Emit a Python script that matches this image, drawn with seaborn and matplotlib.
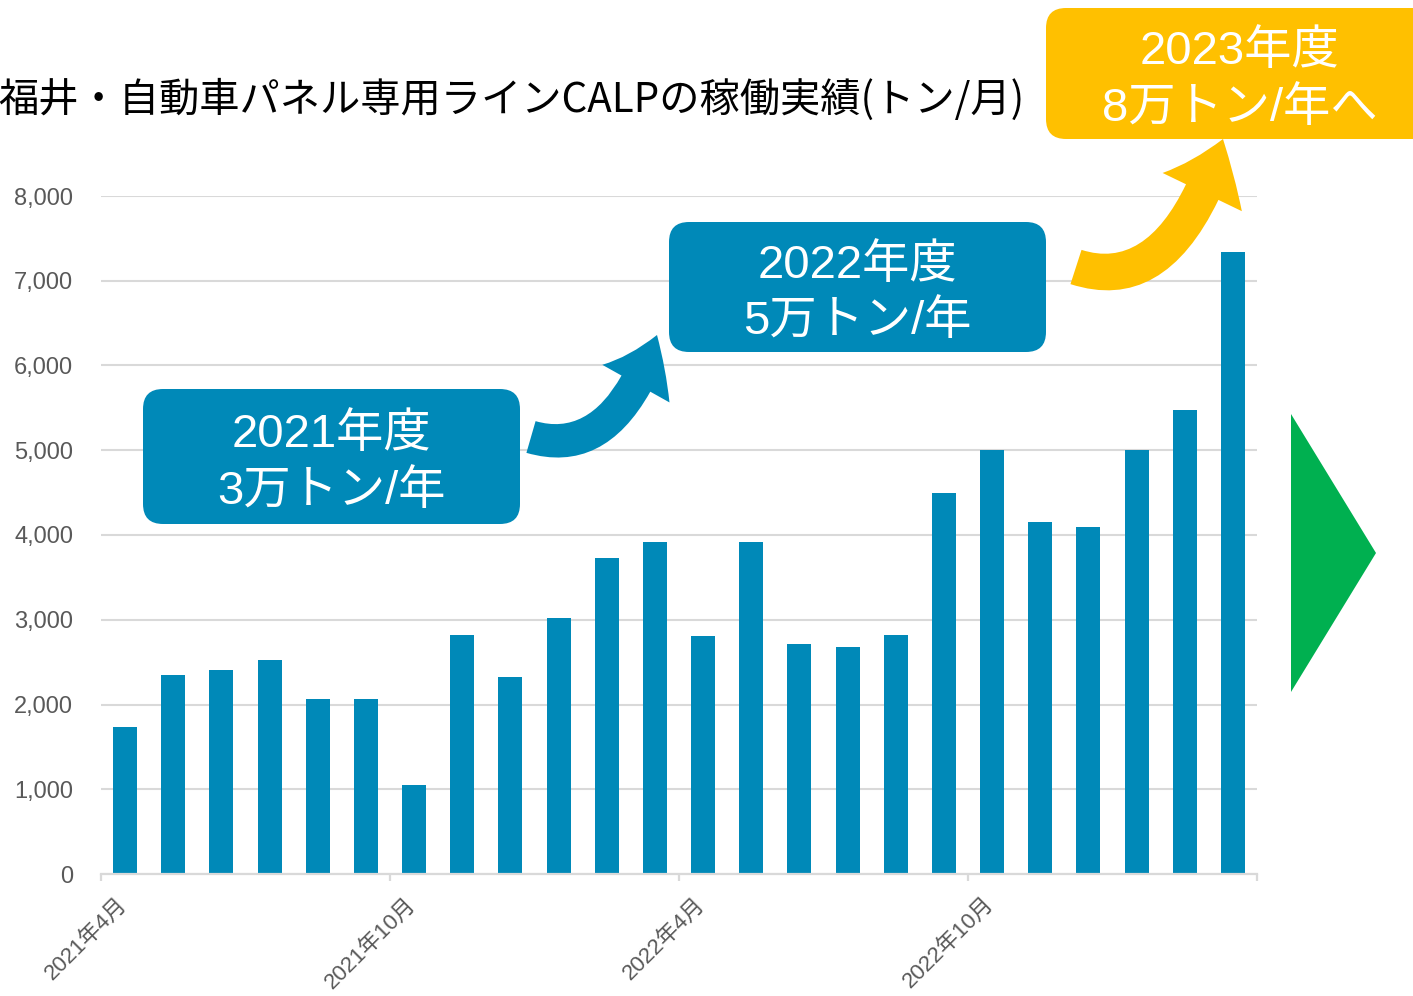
import matplotlib
matplotlib.use("Agg")
import matplotlib.pyplot as plt
import seaborn as sns
import pandas as pd
from matplotlib.patches import FancyBboxPatch, FancyArrowPatch, Polygon
from matplotlib.path import Path
from matplotlib.transforms import IdentityTransform, ScaledTranslation

# ---------------- data ----------------
months = ["2021年4月", "2021年5月", "2021年6月", "2021年7月", "2021年8月", "2021年9月",
          "2021年10月", "2021年11月", "2021年12月", "2022年1月", "2022年2月", "2022年3月",
          "2022年4月", "2022年5月", "2022年6月", "2022年7月", "2022年8月", "2022年9月",
          "2022年10月", "2022年11月", "2022年12月", "2023年1月", "2023年2月", "2023年3月"]
values = [1730, 2350, 2410, 2520, 2060, 2060, 1050, 2820, 2330, 3020, 3730, 3920,
          2810, 3920, 2710, 2680, 2820, 4500, 5000, 4150, 4100, 5000, 5480, 7340]
tick_labels = ["2021年4月", "2021年10月", "2022年4月", "2022年10月", ""]
tick_positions = [-0.5, 5.5, 11.5, 17.5, 23.5]
yticks = [0, 1000, 2000, 3000, 4000, 5000, 6000, 7000, 8000]
title = "福井・自動車パネル専用ラインCALPの稼働実績(トン/月)"
box_texts = ["2021年度\n3万トン/年", "2022年度\n5万トン/年", "2023年度\n8万トン/年へ"]

BLUE = "#0089B8"
YELLOW = "#FFC000"
GREEN = "#00B050"
GRID = "#D9D9D9"
LABEL = "#595959"

W, H = 1413, 996
sns.set_theme(style="white")
FAM = ["Liberation Sans", "Noto Sans CJK JP"]
plt.rcParams["font.family"] = FAM

fig = plt.figure(figsize=(W / 100, H / 100), dpi=100)
fig.patch.set_facecolor("white")
ax = fig.add_axes([101 / W, (H - 874) / H, (1257 - 101) / W, (874 - 196) / H])
ax.set_facecolor("white")

df = pd.DataFrame({"month": months, "value": values})
sns.barplot(data=df, x="month", y="value", color=BLUE, saturation=1, width=0.5,
            linewidth=0, ax=ax, zorder=3)

ax.set_xlim(-0.5, 23.5)
ax.set_ylim(0, 8000)
ax.set_xlabel("")
ax.set_ylabel("")
for s in ["left", "top", "right"]:
    ax.spines[s].set_visible(False)
ax.spines["bottom"].set_color(GRID)
ax.spines["bottom"].set_linewidth(1.6)
ax.spines["bottom"].set_zorder(4)

ax.set_yticks(yticks)
ax.set_yticklabels([f"{v:,}" for v in yticks], color=LABEL, fontsize=17)
ax.tick_params(axis="y", length=0, pad=20)
ax.yaxis.grid(True, color=GRID, linewidth=1.5, zorder=0)
ax.set_axisbelow(True)

ax.set_xticks(tick_positions)
ax.set_xticklabels([""] * len(tick_positions))
ax.tick_params(axis="x", direction="out", length=5, width=1.6, color=GRID, bottom=True)
off = ScaledTranslation(23 / 100, -27 / 100, fig.dpi_scale_trans)
for x, lab in zip(tick_positions, tick_labels):
    ax.text(x, 0, lab, transform=ax.get_xaxis_transform() + off, rotation=45,
            rotation_mode="anchor", ha="right", va="center", fontsize=16,
            color=LABEL, family=FAM, clip_on=False)

# ---------------- title ----------------
fig.text(-2 / W, 1 - 100 / H, title, ha="left", va="center", fontsize=29,
         color="black", family=["Noto Sans CJK JP", "DejaVu Sans"])

ID = IdentityTransform()


def Y(y):
    return H - y


def add_box(x0, y0, x1, y1, color, text):
    p = FancyBboxPatch((x0, Y(y1)), x1 - x0, y1 - y0,
                       boxstyle="round,pad=0,rounding_size=20",
                       transform=ID, facecolor=color, edgecolor="none", zorder=10)
    fig.add_artist(p)
    fig.text((x0 + x1) / 2 / W, 1 - ((y0 + y1) / 2 + 7) / H, text, ha="center",
             va="center", fontsize=34, color="white", family=FAM,
             linespacing=1.38, zorder=11)


def add_arrow(a, c, b, color, hl, hw, tw):
    path = Path([(a[0], Y(a[1])), (c[0], Y(c[1])), (b[0], Y(b[1]))],
                [Path.MOVETO, Path.CURVE3, Path.CURVE3])
    arr = FancyArrowPatch(path=path, transform=ID,
                          arrowstyle=f"simple,head_length={hl},head_width={hw},tail_width={tw}",
                          mutation_scale=72 / 100, facecolor=color, edgecolor="none",
                          linewidth=0, zorder=9)
    fig.add_artist(arr)


add_box(143, 389, 520, 524, BLUE, box_texts[0])
add_box(669, 222, 1046, 352, BLUE, box_texts[1])
add_box(1046, 8, 1433, 139, YELLOW, box_texts[2])

add_arrow((531, 437), (614, 461), (657, 335), BLUE, 53, 77, 33)
add_arrow((1076, 267), (1172, 298), (1223, 139), YELLOW, 57, 88, 36)

tri = Polygon([(1291, Y(414)), (1291, Y(692)), (1376, Y(553))], closed=True,
              transform=ID, facecolor=GREEN, edgecolor="none", zorder=10)
fig.add_artist(tri)

fig.savefig("out.png", dpi=100, facecolor="white")
